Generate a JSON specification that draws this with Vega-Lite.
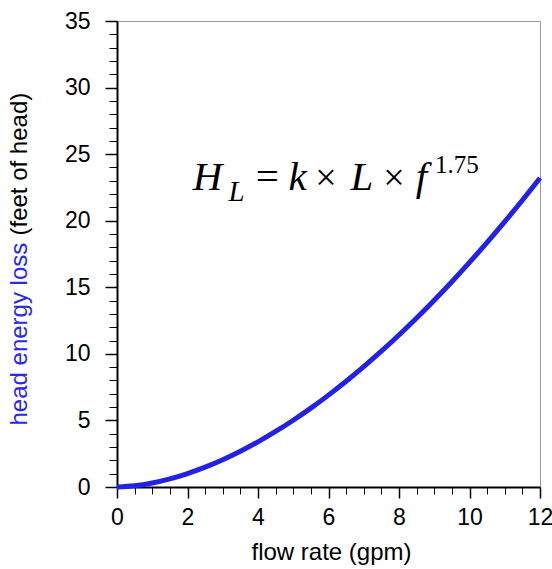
{
  "$schema": "https://vega.github.io/schema/vega-lite/v6.json",
  "width": 423,
  "height": 466,
  "autosize": {"type": "none"},
  "padding": {"left": 117, "top": 21, "right": 12, "bottom": 82},
  "config": {"view": {"stroke": "#9a9a9a", "strokeWidth": 1}, "font": "Liberation Sans"},
  "datasets": {
    "curve": [
      {"flow": 0, "head": 0},
      {"flow": 0.5, "head": 0.089},
      {"flow": 1, "head": 0.3},
      {"flow": 1.5, "head": 0.61},
      {"flow": 2, "head": 1.009},
      {"flow": 2.5, "head": 1.491},
      {"flow": 3, "head": 2.052},
      {"flow": 3.5, "head": 2.687},
      {"flow": 4, "head": 3.394},
      {"flow": 4.5, "head": 4.171},
      {"flow": 5, "head": 5.016},
      {"flow": 5.5, "head": 5.926},
      {"flow": 6, "head": 6.901},
      {"flow": 6.5, "head": 7.939},
      {"flow": 7, "head": 9.037},
      {"flow": 7.5, "head": 10.197},
      {"flow": 8, "head": 11.416},
      {"flow": 8.5, "head": 12.695},
      {"flow": 9, "head": 14.03},
      {"flow": 9.5, "head": 15.42},
      {"flow": 10, "head": 16.87},
      {"flow": 10.5, "head": 18.37},
      {"flow": 11, "head": 19.93},
      {"flow": 11.5, "head": 21.54},
      {"flow": 12, "head": 23.21}
    ]
  },
  "resolve": {"axis": {"x": "independent", "y": "independent"}},
  "layer": [
    {
      "data": {"name": "curve"},
      "mark": {"type": "line", "opacity": 0},
      "encoding": {
        "x": {
          "field": "flow", "type": "quantitative",
          "scale": {"domain": [0, 12], "nice": false},
          "axis": {"orient": "bottom", "values": [0.5, 1, 1.5, 2.5, 3, 3.5, 4.5, 5, 5.5, 6.5, 7, 7.5, 8.5, 9, 9.5, 10.5, 11, 11.5], "tickSize": 7, "tickColor": "black", "tickWidth": 1, "domain": false, "labels": false, "title": null, "grid": false}
        },
        "y": {
          "field": "head", "type": "quantitative",
          "scale": {"domain": [0, 35], "nice": false},
          "axis": {"orient": "left", "values": [1, 2, 3, 4, 6, 7, 8, 9, 11, 12, 13, 14, 16, 17, 18, 19, 21, 22, 23, 24, 26, 27, 28, 29, 31, 32, 33, 34], "tickSize": 8, "tickColor": "black", "tickWidth": 1, "domain": false, "labels": false, "grid": false,
            "title": "head energy loss", "titleColor": "#2828ee", "titleFontSize": 24, "titleFontWeight": "normal", "titleFont": "Liberation Sans",
            "titleX": -91, "titleY": 404, "titleAlign": "left", "titleAngle": -90, "titleBaseline": "alphabetic"}
        }
      }
    },
    {
      "data": {"name": "curve"},
      "mark": {"type": "line", "color": "#2222e6", "strokeWidth": 5, "interpolate": "monotone"},
      "encoding": {
        "x": {
          "field": "flow", "type": "quantitative",
          "scale": {"domain": [0, 12], "nice": false},
          "axis": {"orient": "bottom", "values": [0, 2, 4, 6, 8, 10, 12], "tickSize": 11, "tickColor": "black", "tickWidth": 1.5, "domainColor": "black", "domainWidth": 2, "labelFontSize": 23, "labelColor": "black", "labelPadding": 8, "labelFlush": false, "grid": false,
            "title": "flow rate (gpm)", "titleFontSize": 24, "titleFontWeight": "normal", "titleColor": "black", "titleX": 214, "titleY": 72, "titleBaseline": "alphabetic"}
        },
        "y": {
          "field": "head", "type": "quantitative",
          "scale": {"domain": [0, 35], "nice": false},
          "axis": {"orient": "left", "values": [0, 5, 10, 15, 20, 25, 30, 35], "tickSize": 12, "tickColor": "black", "tickWidth": 1.5, "domainColor": "black", "domainWidth": 2, "labelFontSize": 23, "labelColor": "black", "labelPadding": 15, "labelFlush": false, "grid": false,
            "title": "(feet of head)", "titleColor": "black", "titleFontSize": 24, "titleFontWeight": "normal",
            "titleX": -91, "titleY": 214, "titleAlign": "left", "titleAngle": -90, "titleBaseline": "alphabetic"}
        }
      }
    },
    {
      "data": {"values": [{}]},
      "mark": {"type": "text", "text": "H", "font": "Liberation Serif", "fontStyle": "italic", "fontSize": 41, "align": "center", "baseline": "alphabetic", "color": "black"},
      "encoding": {"x": {"datum": 2.567, "type": "quantitative", "axis": null}, "y": {"datum": 22.33, "type": "quantitative", "axis": null}}
    },
    {
      "data": {"values": [{}]},
      "mark": {"type": "text", "text": "L", "font": "Liberation Serif", "fontStyle": "italic", "fontSize": 29, "align": "center", "baseline": "alphabetic", "color": "black"},
      "encoding": {"x": {"datum": 3.39, "type": "quantitative", "axis": null}, "y": {"datum": 21.46, "type": "quantitative", "axis": null}}
    },
    {
      "data": {"values": [{}]},
      "mark": {"type": "text", "text": "=", "font": "Liberation Serif", "fontSize": 41, "align": "center", "baseline": "alphabetic", "color": "black"},
      "encoding": {"x": {"datum": 4.267, "type": "quantitative", "axis": null}, "y": {"datum": 22.33, "type": "quantitative", "axis": null}}
    },
    {
      "data": {"values": [{}]},
      "mark": {"type": "text", "text": "k", "font": "Liberation Serif", "fontStyle": "italic", "fontSize": 41, "align": "center", "baseline": "alphabetic", "color": "black"},
      "encoding": {"x": {"datum": 5.121, "type": "quantitative", "axis": null}, "y": {"datum": 22.33, "type": "quantitative", "axis": null}}
    },
    {
      "data": {"values": [{}]},
      "mark": {"type": "text", "text": "×", "font": "Liberation Serif", "fontSize": 38, "align": "center", "baseline": "alphabetic", "color": "black"},
      "encoding": {"x": {"datum": 5.929, "type": "quantitative", "axis": null}, "y": {"datum": 22.33, "type": "quantitative", "axis": null}}
    },
    {
      "data": {"values": [{}]},
      "mark": {"type": "text", "text": "L", "font": "Liberation Serif", "fontStyle": "italic", "fontSize": 41, "align": "center", "baseline": "alphabetic", "color": "black"},
      "encoding": {"x": {"datum": 6.95, "type": "quantitative", "axis": null}, "y": {"datum": 22.33, "type": "quantitative", "axis": null}}
    },
    {
      "data": {"values": [{}]},
      "mark": {"type": "text", "text": "×", "font": "Liberation Serif", "fontSize": 38, "align": "center", "baseline": "alphabetic", "color": "black"},
      "encoding": {"x": {"datum": 7.858, "type": "quantitative", "axis": null}, "y": {"datum": 22.33, "type": "quantitative", "axis": null}}
    },
    {
      "data": {"values": [{}]},
      "mark": {"type": "text", "text": "f", "font": "Liberation Serif", "fontStyle": "italic", "fontSize": 41, "align": "center", "baseline": "alphabetic", "color": "black"},
      "encoding": {"x": {"datum": 8.638, "type": "quantitative", "axis": null}, "y": {"datum": 22.33, "type": "quantitative", "axis": null}}
    },
    {
      "data": {"values": [{}]},
      "mark": {"type": "text", "text": "1.75", "font": "Liberation Serif", "fontSize": 25, "align": "center", "baseline": "alphabetic", "color": "black"},
      "encoding": {"x": {"datum": 9.645, "type": "quantitative", "axis": null}, "y": {"datum": 23.58, "type": "quantitative", "axis": null}}
    }
  ]
}
